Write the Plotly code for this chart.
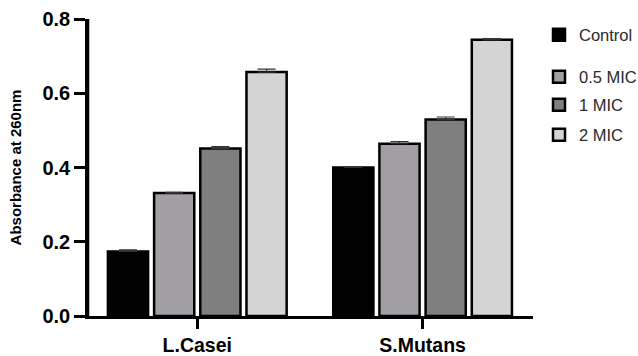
import plotly.graph_objects as go

categories = ["L.Casei", "S.Mutans"]
series_names = ["Control", "0.5 MIC", "1 MIC", "2 MIC"]
values = {
    "Control": [0.174, 0.400],
    "0.5 MIC": [0.331, 0.464],
    "1 MIC": [0.451, 0.529],
    "2 MIC": [0.657, 0.744],
}
errors = {
    "Control": [0.004, 0.002],
    "0.5 MIC": [0.002, 0.006],
    "1 MIC": [0.005, 0.007],
    "2 MIC": [0.008, 0.003],
}
colors = {
    "Control": "#000000",
    "0.5 MIC": "#a19ea4",
    "1 MIC": "#7f7f7f",
    "2 MIC": "#d4d4d4",
}
y_ticks = [0.0, 0.2, 0.4, 0.6, 0.8]

FONT = "Arial, 'Liberation Sans', sans-serif"

fig = go.Figure()
legend_ids = ["legend", "legend2", "legend3", "legend4"]
for name, lg in zip(series_names, legend_ids):
    fig.add_trace(go.Bar(
        x=categories,
        y=values[name],
        name=name,
        legend=lg,
        marker=dict(color=colors[name], line=dict(color="black", width=2.5)),
        error_y=dict(type="data", array=errors[name], arrayminus=[0] * len(categories),
                     symmetric=False, color="#333333", thickness=1.2, width=9),
    ))

legend_y = {"legend": 35, "legend2": 77, "legend3": 105, "legend4": 135}
H = 356
W = 638
for lg in legend_ids:
    fig.update_layout(**{lg: dict(
        x=539 / W, xref="container", xanchor="left",
        y=1 - legend_y[lg] / H, yref="container", yanchor="middle",
        font=dict(family=FONT, size=16.5, color="#2a2a2a"),
        bgcolor="rgba(0,0,0,0)", borderwidth=0,
    )})

fig.update_layout(
    width=W, height=H,
    margin=dict(l=88, r=105, t=19, b=40),
    plot_bgcolor="white", paper_bgcolor="white",
    barmode="group", bargap=0.18, bargroupgap=0.13,
    showlegend=True,
)

# vertical axis line (frame element, in axis-domain coordinates)
fig.add_shape(type="line", xref="x domain", yref="y domain",
              x0=0, x1=0, y0=0, y1=1, line=dict(color="black", width=2.5), layer="above")

fig.update_xaxes(
    range=[-0.485, 1.49], automargin=False,
    showline=True, linecolor="black", linewidth=2.5,
    ticks="outside", ticklen=10, tickwidth=2.5, tickcolor="black",
    tickfont=dict(family=FONT, size=19.5, color="black", weight="bold"),
    showgrid=False, zeroline=False,
)
fig.update_yaxes(
    range=[0, 0.8], tickvals=y_ticks, tickformat=".1f", automargin=False,
    showline=True, linecolor="black", linewidth=2.5,
    ticks="outside", ticklen=11, tickwidth=2.5, tickcolor="black",
    tickfont=dict(family=FONT, size=20, color="black", weight="bold"),
    title=dict(text="Absorbance at 260nm", font=dict(family=FONT, size=15, color="black", weight="bold"), standoff=18),
    showgrid=False, zeroline=False,
)

fig.write_html("out.html")
